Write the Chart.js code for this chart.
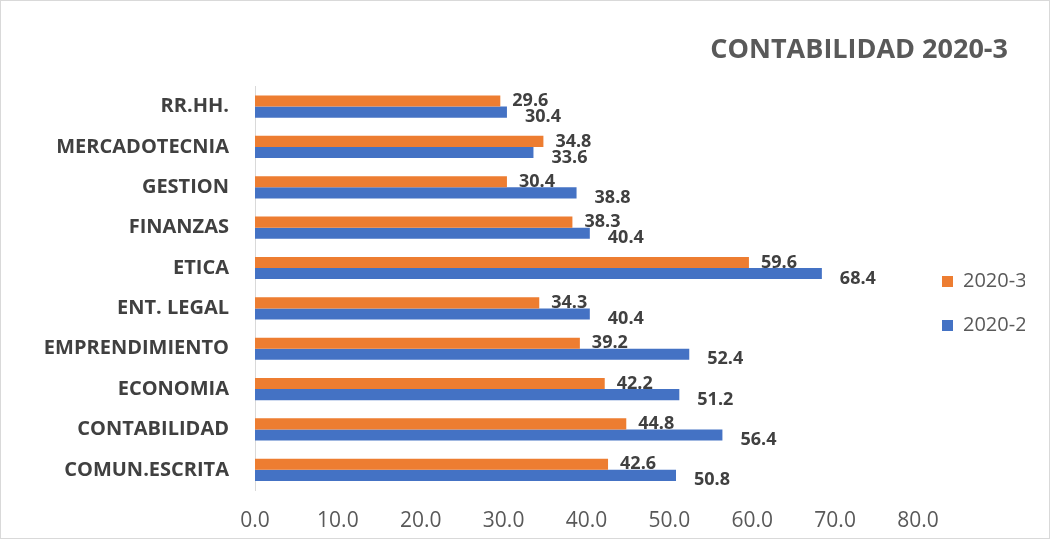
<!DOCTYPE html>
<html>
<head>
<meta charset="utf-8">
<script src="https://cdn.jsdelivr.net/npm/chart.js@4"></script>
<style>
  body { margin: 0; background: #fff; }
  #chartArea { position: relative; width: 1048px; height: 537px; border: 1px solid #d9d9d9; }
</style>
</head>
<body>
<div id="chartArea"><canvas id="GraficoDeBarras"></canvas></div>
<script>
const categorias = ["RR.HH.", "MERCADOTECNIA", "GESTION", "FINANZAS", "ETICA", "ENT. LEGAL", "EMPRENDIMIENTO", "ECONOMIA", "CONTABILIDAD", "COMUN.ESCRITA"];
const valores2020_3 = [29.6, 34.8, 30.4, 38.3, 59.6, 34.3, 39.2, 42.2, 44.8, 42.6];
const valores2020_2 = [30.4, 33.6, 38.8, 40.4, 68.4, 40.4, 52.4, 51.2, 56.4, 50.8];
const ticksX = [0, 10, 20, 30, 40, 50, 60, 70, 80];

const fonte = "'Open Sans', 'Liberation Sans', sans-serif";

// etiquetas de datos al final de cada barra
const etiquetas = {
  id: "etiquetas",
  afterDatasetsDraw(chart) {
    const ctx = chart.ctx;
    ctx.save();
    ctx.font = "bold 18px " + fonte;
    ctx.fillStyle = "#404040";
    ctx.textAlign = "left";
    ctx.textBaseline = "middle";
    chart.data.datasets.forEach((ds, i) => {
      const meta = chart.getDatasetMeta(i);
      meta.data.forEach((bar, j) => {
        const dx = i === 0 ? 12 : 18;
        const dy = i === 0 ? 0 : 5;
        ctx.fillText(ds.data[j].toFixed(1), bar.x + dx, bar.y + dy);
      });
    });
    ctx.restore();
  },
};

// leyenda mas angosta y un poco mas abajo, titulo un poco a la izquierda
const ajustarLeyenda = {
  id: "ajustarLeyenda",
  afterInit(chart) {
    const fitOrig = chart.legend.fit;
    chart.legend.fit = function () {
      fitOrig.call(this);
      this.width = 107;
    };
  },
  afterLayout(chart) {
    chart.legend.top += 34;
    chart.legend.bottom += 34;
    chart.titleBlock.right -= 17;
    chart.titleBlock.width -= 17;
  },
};

const dash = document.getElementById("GraficoDeBarras");

new Chart(dash, {
  type: "bar",
  data: {
    labels: categorias,
    datasets: [
      {
        label: "2020-3",
        data: valores2020_3,
        backgroundColor: "#ED7D31",
        barPercentage: 1,
        categoryPercentage: 0.55,
      },
      {
        label: "2020-2",
        data: valores2020_2,
        backgroundColor: "#4472C4",
        barPercentage: 1,
        categoryPercentage: 0.55,
      },
    ],
  },
  options: {
    indexAxis: "y",
    responsive: true,
    maintainAspectRatio: false,
    animation: false,
    layout: { padding: { left: 10, right: 24, top: 0, bottom: 0 } },
    plugins: {
      title: {
        display: true,
        text: "CONTABILIDAD 2020-3",
        align: "end",
        color: "#595959",
        font: { family: fonte, size: 27, weight: "bold" },
        padding: { top: 33, bottom: 20 },
      },
      legend: {
        position: "right",
        labels: {
          color: "#595959",
          font: { family: fonte, size: 20 },
          boxWidth: 11,
          boxHeight: 11,
          padding: 24,
        },
      },
      tooltip: { enabled: false },
    },
    scales: {
      x: {
        min: 0,
        max: 80,
        afterBuildTicks(scale) {
          scale.ticks = ticksX.map((v) => ({ value: v }));
        },
        afterFit(scale) {
          scale.height = 48;
          scale.paddingRight = 0;
        },
        ticks: {
          color: "#595959",
          font: { family: fonte, size: 21 },
          padding: 10,
          callback: (v) => Number(v).toFixed(1),
        },
        grid: { display: false },
        border: { display: false },
      },
      y: {
        afterFit(scale) {
          scale.width = 244;
        },
        ticks: {
          color: "#404040",
          font: { family: fonte, size: 20, weight: "bold" },
          padding: 18,
        },
        grid: { display: false },
        border: { display: true, color: "#d9d9d9", width: 1 },
      },
    },
  },
  plugins: [etiquetas, ajustarLeyenda],
});
</script>
</body>
</html>
